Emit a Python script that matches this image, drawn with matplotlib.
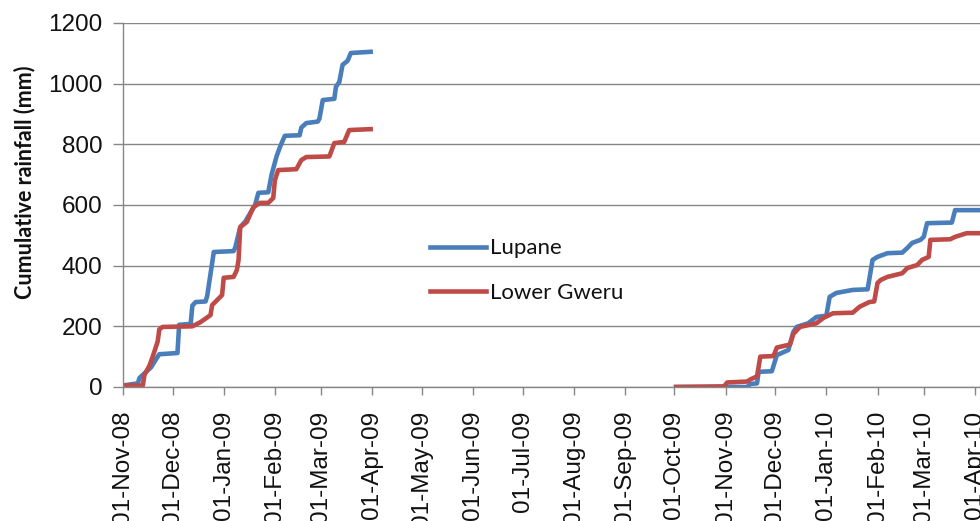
import pandas as pd
import matplotlib
matplotlib.use("Agg")
import matplotlib.pyplot as plt
import matplotlib.dates as mdates

# Lupane, season 2008/09
lup1_dates = ["2008-11-01", "2008-11-10", "2008-11-11", "2008-11-16", "2008-11-18",
              "2008-11-22", "2008-11-23", "2008-12-04", "2008-12-05", "2008-12-12",
              "2008-12-13", "2008-12-15", "2008-12-21", "2008-12-22", "2008-12-26",
              "2009-01-07", "2009-01-08", "2009-01-11", "2009-01-14", "2009-01-20",
              "2009-01-22", "2009-01-28", "2009-01-30", "2009-02-02", "2009-02-04",
              "2009-02-07", "2009-02-16", "2009-02-17", "2009-02-20", "2009-02-27",
              "2009-02-28", "2009-03-02", "2009-03-09", "2009-03-10", "2009-03-12",
              "2009-03-14", "2009-03-17", "2009-03-19", "2009-03-31"]
lup1_vals = [5, 12, 30, 55, 65, 100, 108, 112, 205, 208, 268, 280, 282, 300, 445,
             448, 460, 527, 545, 600, 640, 642, 700, 760, 790, 828, 830, 855, 870,
             875, 885, 946, 950, 990, 1005, 1062, 1075, 1101, 1105]

# Lower Gweru, season 2008/09
gw1_dates = ["2008-11-01", "2008-11-13", "2008-11-14", "2008-11-17", "2008-11-19",
             "2008-11-22", "2008-11-23", "2008-11-25", "2008-12-13", "2008-12-18",
             "2008-12-24", "2008-12-25", "2008-12-31", "2009-01-01", "2009-01-07",
             "2009-01-09", "2009-01-10", "2009-01-11", "2009-01-15", "2009-01-19",
             "2009-01-23", "2009-01-28", "2009-01-31", "2009-02-01", "2009-02-03",
             "2009-02-14", "2009-02-17", "2009-02-20", "2009-03-06", "2009-03-09",
             "2009-03-15", "2009-03-18", "2009-03-31"]
gw1_vals = [5, 5, 40, 70, 100, 150, 190, 198, 200, 214, 237, 270, 303, 360, 363,
            386, 419, 527, 544, 593, 607, 607, 623, 682, 715, 718, 748, 758, 760,
            804, 808, 847, 850]

# Lupane, season 2009/10
lup2_dates = ["2009-10-02", "2009-11-14", "2009-11-16", "2009-11-20", "2009-11-21",
              "2009-11-29", "2009-12-02", "2009-12-09", "2009-12-12", "2009-12-14",
              "2009-12-21", "2009-12-26", "2010-01-01", "2010-01-03", "2010-01-07",
              "2010-01-17", "2010-01-26", "2010-01-29", "2010-02-01", "2010-02-07",
              "2010-02-16", "2010-02-19", "2010-02-22", "2010-02-27", "2010-03-01",
              "2010-03-03", "2010-03-18", "2010-03-20", "2010-04-10"]
lup2_vals = [0, 0, 10, 12, 50, 52, 105, 122, 181, 198, 210, 231, 235, 297, 310,
             320, 322, 419, 429, 441, 443, 458, 475, 485, 495, 540, 542, 583, 583]

# Lower Gweru, season 2009/10
gw2_dates = ["2009-10-02", "2009-10-31", "2009-11-02", "2009-11-14", "2009-11-16",
             "2009-11-20", "2009-11-22", "2009-11-30", "2009-12-02", "2009-12-10",
             "2009-12-12", "2009-12-16", "2009-12-26", "2009-12-30", "2010-01-05",
             "2010-01-17", "2010-01-21", "2010-01-27", "2010-01-30", "2010-02-01",
             "2010-02-03", "2010-02-07", "2010-02-16", "2010-02-19", "2010-02-25",
             "2010-02-28", "2010-03-04", "2010-03-05", "2010-03-17", "2010-03-20",
             "2010-03-27", "2010-04-10"]
gw2_vals = [0, 2, 15, 18, 25, 35, 100, 102, 130, 140, 175, 198, 210, 227, 243,
            245, 264, 280, 282, 343, 353, 363, 375, 392, 402, 419, 429, 485, 487,
            495, 507, 507]

blue = "#4A7EBB"
red = "#BE4B48"
grey = "#868686"

fig = plt.figure(figsize=(9.8, 5.21), dpi=100)
# right edge of the plot runs past the picture, as in the original
ax = fig.add_axes([0.1255, 0.2572, 0.8845, 0.6987])

ax.plot(pd.to_datetime(lup1_dates), lup1_vals, color=blue, lw=3.3, label="Lupane",
        solid_joinstyle="round")
ax.plot(pd.to_datetime(gw1_dates), gw1_vals, color=red, lw=3.3, label="Lower Gweru",
        solid_joinstyle="round")
ax.plot(pd.to_datetime(lup2_dates), lup2_vals, color=blue, lw=3.3, solid_joinstyle="round")
ax.plot(pd.to_datetime(gw2_dates), gw2_vals, color=red, lw=3.3, solid_joinstyle="round")

ax.set_xlim(pd.Timestamp("2008-11-01"), pd.Timestamp("2010-04-10"))
ax.set_ylim(0, 1200)
ax.set_yticks(range(0, 1201, 200))

ax.xaxis.set_major_locator(mdates.MonthLocator(bymonthday=1))
ax.xaxis.set_major_formatter(mdates.DateFormatter("%d-%b-%y"))

ax.grid(axis="y", color=grey, lw=1)
ax.set_axisbelow(True)
for s in ["top", "right"]:
    ax.spines[s].set_visible(False)
for s in ["left", "bottom"]:
    ax.spines[s].set_color(grey)
    ax.spines[s].set_linewidth(1)

ax.tick_params(axis="y", length=7, width=1, color=grey, pad=8,
               labelsize=17.5, labelcolor="#111111")
ax.tick_params(axis="x", length=6, width=1, color=grey, pad=11,
               labelsize=17.5, labelcolor="#111111")
for lbl in ax.get_yticklabels():
    lbl.set_fontfamily("Liberation Sans")
for lbl in ax.get_xticklabels():
    lbl.set_fontfamily("Liberation Sans")
    lbl.set_rotation(90)
    lbl.set_va("top")
    lbl.set_ha("center")

fig.text(25 / 980, 1 - 182 / 521, "Cumulative rainfall (mm)", rotation=90,
         ha="center", va="center", fontsize=15.5, fontweight="bold",
         family="Lato", color="#111111")

leg = ax.legend(loc="center left", bbox_to_anchor=(430 / 980, 1 - 270.5 / 521),
                bbox_transform=fig.transFigure, frameon=False, borderpad=0,
                borderaxespad=0, handlelength=2.5, handletextpad=0.2,
                labelspacing=1.1, prop={"family": "Lato", "size": 16})
for t in leg.get_texts():
    t.set_color("#111111")

fig.savefig("out.png", dpi=100)
